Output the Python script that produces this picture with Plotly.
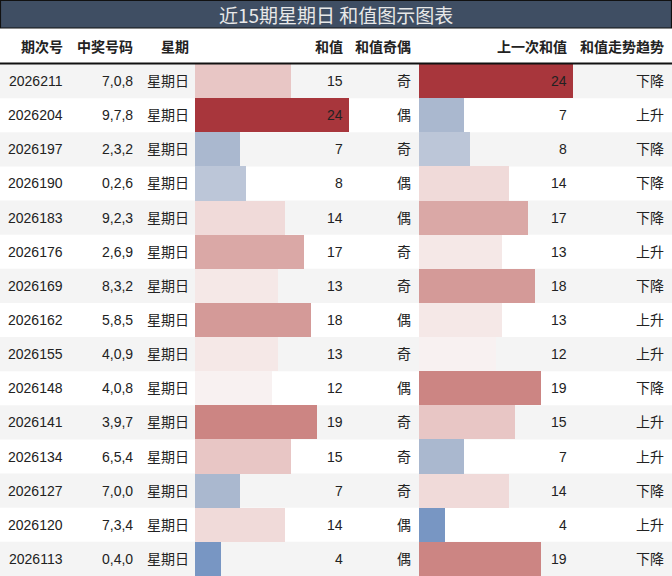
import plotly.graph_objects as go

W, H = 672, 576

issues = ["2026211", "2026204", "2026197", "2026190", "2026183", "2026176", "2026169",
          "2026162", "2026155", "2026148", "2026141", "2026134", "2026127", "2026120", "2026113"]
numbers = ["7,0,8", "9,7,8", "2,3,2", "0,2,6", "9,2,3", "2,6,9", "8,3,2", "5,8,5",
           "4,0,9", "4,0,8", "3,9,7", "6,5,4", "7,0,0", "7,3,4", "0,4,0"]
weekday = ["星期日"] * 15
sums = [15, 24, 7, 8, 14, 17, 13, 18, 13, 12, 19, 15, 7, 14, 4]
parity = ["奇", "偶", "奇", "偶", "偶", "奇", "奇", "偶", "奇", "偶", "奇", "奇", "奇", "偶", "偶"]
prev_sums = [24, 7, 8, 14, 17, 13, 18, 13, 12, 19, 15, 7, 14, 4, 19]
trend = ["下降", "上升", "下降", "下降", "下降", "上升", "下降", "上升", "上升", "下降",
         "上升", "上升", "下降", "上升", "下降"]
headers = ["期次号", "中奖号码", "星期", "和值", "和值奇偶", "上一次和值", "和值走势趋势"]
title = "近15期星期日 和值图示图表"

colorscale = [
    [0.00, "#7896c3"],
    [0.15, "#aab8cf"],
    [0.20, "#bcc6d8"],
    [0.40, "#f8f1f1"],
    [0.45, "#f5e8e7"],
    [0.50, "#f0dad9"],
    [0.55, "#e8c6c5"],
    [0.65, "#daa8a6"],
    [0.70, "#d49a98"],
    [0.75, "#cc8583"],
    [1.00, "#a8363c"],
]
cmin, cmax = 4, 24

# layout geometry (pixels)
title_h = 28
header_bottom = 64
col_right = [65, 135, 191, 345, 413, 569, 666]
bar1 = (195, 349)
bar2 = (419, 573)

n = len(issues)
rows = list(range(n))

def px(x):
    return x / W

def py(y):
    return 1 - y / H

fig = go.Figure()
fig.add_trace(go.Bar(
    x=sums, y=rows, orientation="h", width=1,
    marker=dict(color=sums, colorscale=colorscale, cmin=cmin, cmax=cmax, line=dict(width=0)),
    xaxis="x", yaxis="y", hoverinfo="skip", showlegend=False,
))
fig.add_trace(go.Bar(
    x=prev_sums, y=rows, orientation="h", width=1,
    marker=dict(color=prev_sums, colorscale=colorscale, cmin=cmin, cmax=cmax, line=dict(width=0)),
    xaxis="x2", yaxis="y", hoverinfo="skip", showlegend=False,
))

shapes = []
for i in rows:
    if i % 2 == 0:
        shapes.append(dict(type="rect", xref="paper", yref="y", x0=0, x1=1,
                           y0=i - 0.5, y1=i + 0.5, fillcolor="#f4f4f4",
                           line=dict(width=0), layer="below"))
# title bar
shapes.append(dict(type="rect", xref="paper", yref="paper", x0=0.0007, x1=0.9993,
                   y0=py(title_h), y1=py(0.5), fillcolor="#3f4e63",
                   line=dict(color="#111111", width=1.2), layer="above"))
# header underline
shapes.append(dict(type="line", xref="paper", yref="paper", x0=0, x1=1,
                   y0=py(header_bottom - 0.5), y1=py(header_bottom - 0.5),
                   line=dict(color="#111111", width=2), layer="above"))

font_main = "Liberation Sans, Arial, Noto Sans CJK SC, sans-serif"
annotations = []
annotations.append(dict(text=title, x=0.5, y=py(title_h / 2 + 0.5), xref="paper", yref="paper",
                        xanchor="center", yanchor="middle", showarrow=False,
                        font=dict(family="Noto Sans CJK SC, sans-serif", size=19, color="#e8e8e8")))
header_y = py((title_h + header_bottom) / 2 + 1)
for h, xr in zip(headers, col_right):
    annotations.append(dict(text="<b>" + h + "</b>", x=px(xr), y=header_y, xref="paper", yref="paper",
                            xanchor="right", yanchor="middle", showarrow=False,
                            font=dict(family="Liberation Sans, Noto Sans CJK SC, sans-serif",
                                      size=14, color="#222222")))

columns = [issues, numbers, weekday, [str(v) for v in sums], parity,
           [str(v) for v in prev_sums], trend]
for col, xr in zip(columns, col_right):
    for i, t in zip(rows, col):
        annotations.append(dict(text=t, x=px(xr), y=i, xref="paper", yref="y",
                                xanchor="right", yanchor="middle", showarrow=False,
                                font=dict(family=font_main, size=14, color="#222222")))

fig.update_layout(
    width=W, height=H,
    margin=dict(l=0, r=0, t=0, b=0),
    paper_bgcolor="white", plot_bgcolor="rgba(0,0,0,0)",
    bargap=0, barmode="overlay",
    xaxis=dict(domain=[px(bar1[0]), px(bar1[1])], range=[0, 24], visible=False, fixedrange=True),
    xaxis2=dict(domain=[px(bar2[0]), px(bar2[1])], range=[0, 24], visible=False, fixedrange=True,
                anchor="y"),
    yaxis=dict(domain=[0, py(header_bottom)], range=[n - 0.5, -0.5], visible=False, fixedrange=True),
    shapes=shapes, annotations=annotations,
)

fig.write_html(
    "out.html",
    config={"displayModeBar": False},
    post_script="document.body.style.margin='0';document.body.style.overflow='hidden';",
)
